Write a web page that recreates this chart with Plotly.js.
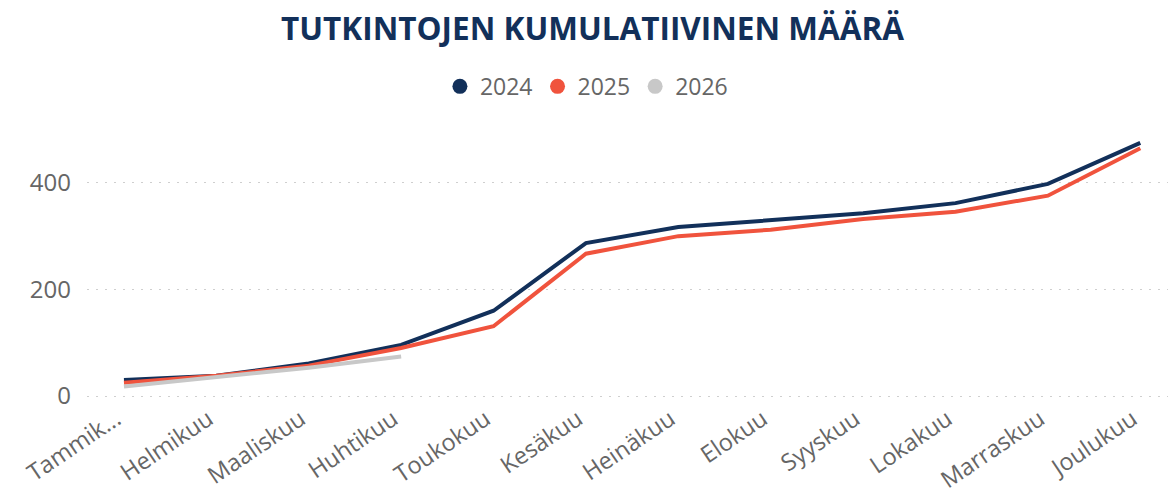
<!DOCTYPE html>
<html>
<head>
<meta charset="utf-8">
<script src="https://cdn.plot.ly/plotly-3.0.1.min.js"></script>
<style>html,body{margin:0;padding:0;background:#fff;}#chart{width:1171px;height:500px;}</style>
</head>
<body>
<div id="chart"></div>
<script>
const months = ['Tammikuu','Helmikuu','Maaliskuu','Huhtikuu','Toukokuu','Kesäkuu','Heinäkuu','Elokuu','Syyskuu','Lokakuu','Marraskuu','Joulukuu'];
const monthLabels = ['Tammik...','Helmikuu','Maaliskuu','Huhtikuu','Toukokuu','Kesäkuu','Heinäkuu','Elokuu','Syyskuu','Lokakuu','Marraskuu','Joulukuu'];
const series2024 = [30, 38, 61, 96, 160, 287, 317, 330, 343, 362, 398, 475];
const series2025 = [25, 38, 57, 90, 131, 267, 300, 312, 332, 346, 376, 465];
const months2026 = ['Tammikuu','Helmikuu','Maaliskuu','Huhtikuu'];
const series2026 = [18, 36, 53, 74];
const seriesNames = ['2024','2025','2026'];
const seriesColors = ['#12305A','#F0533D','#C8C8C8'];

const font = 'Open Sans, Noto Sans, DejaVu Sans, sans-serif';
const xs = [months, months, months2026];
const ys = [series2024, series2025, series2026];
const traces = [];
for (let i = 0; i < 3; i++) {
  traces.push({
    type: 'scatter', mode: 'lines', x: xs[i], y: ys[i], name: seriesNames[i],
    line: {color: seriesColors[i], width: 4}, showlegend: false, legendgroup: seriesNames[i],
    hoverinfo: 'x+y+name'
  });
}
for (let i = 0; i < 3; i++) {
  traces.push({
    type: 'scatter', mode: 'markers', x: [null], y: [null], name: seriesNames[i],
    marker: {color: seriesColors[i], size: 15, symbol: 'circle'}, legendgroup: seriesNames[i], showlegend: true
  });
}

const layout = {
  width: 1171, height: 500,
  margin: {l: 87, r: 3, t: 120, b: 100},
  paper_bgcolor: '#fff', plot_bgcolor: '#fff',
  title: {text: '<b>TUTKINTOJEN KUMULATIIVINEN MÄÄRÄ</b>', x: 0.506, xanchor: 'center', y: 0.942, yanchor: 'middle',
          font: {family: font, size: 31.5, color: '#12305A'}},
  showlegend: true,
  legend: {orientation: 'h', x: 0.462, xanchor: 'center', y: 1.12, yanchor: 'middle',
           font: {family: font, size: 23, color: '#666'}, itemwidth: 30, tracegroupgap: 0},
  xaxis: {type: 'category', categoryorder: 'array', categoryarray: months,
          tickvals: months, ticktext: monthLabels, range: [-0.4, 11.3],
          tickangle: -34, tickfont: {family: font, size: 23.5, color: '#666'}, ticklabelshift: -8,
          showgrid: false, zeroline: false, showline: false, ticks: ''},
  yaxis: {range: [-7.5, 518], tickvals: [0, 200, 400], ticktext: ['0','200','400'],
          tickfont: {family: font, size: 24, color: '#666'}, ticklabelstandoff: 15,
          showgrid: true, gridcolor: '#cfcfcf', griddash: '2px,7px', gridwidth: 1,
          zeroline: false, showline: false, ticks: ''}
};
Plotly.newPlot('chart', traces, layout, {displayModeBar: false, staticPlot: true});
</script>
</body>
</html>
